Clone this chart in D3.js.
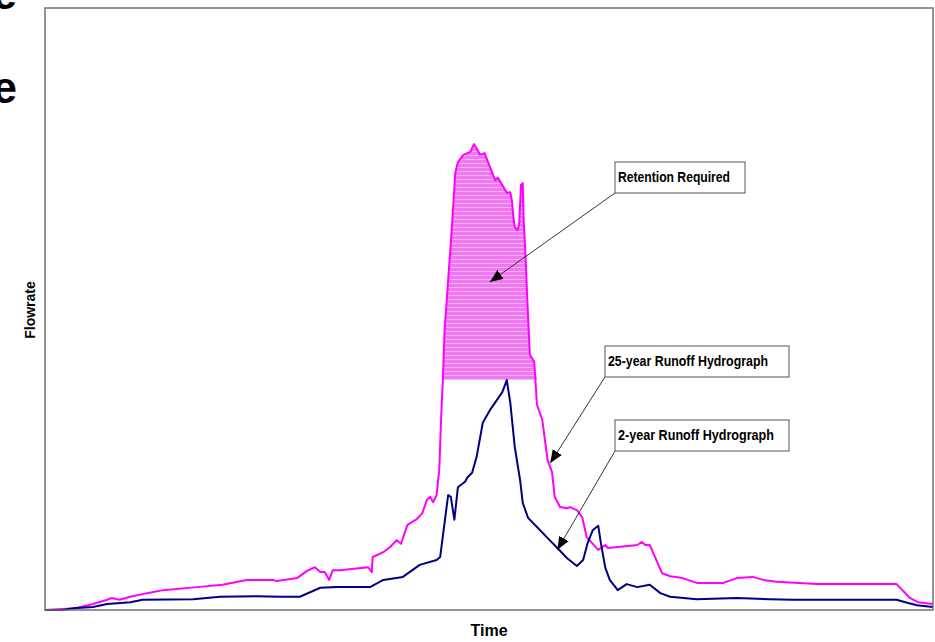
<!DOCTYPE html>
<html>
<head>
<meta charset="utf-8">
<script src="https://cdn.jsdelivr.net/npm/d3@7"></script>
<style>
  body { margin: 0; background: #fff; }
  text { font-family: "Liberation Sans", Arial, sans-serif; }
</style>
</head>
<body>
<div id="chart-area"></div>
<script>
const MARGIN = { LEFT: 45, RIGHT: 2, TOP: 8, BOTTOM: 32 }
const WIDTH = 935 - MARGIN.LEFT - MARGIN.RIGHT
const HEIGHT = 642 - MARGIN.TOP - MARGIN.BOTTOM

// 25-year runoff hydrograph (time %, flowrate %)
const time25 = [0, 3.4, 5.4, 7.0, 7.5, 8.4, 9.6, 11.5, 13.3, 17.1, 20.0, 22.7, 25.7, 26.1, 28.4, 29.5, 30.4, 31.0, 31.5, 32.0,
  32.4, 33.2, 36.4, 36.8, 36.9, 38.1, 38.9, 39.6, 40.1, 40.8, 41.3, 41.8, 42.5, 43.0, 43.4, 43.7, 44.1, 44.4, 44.6, 44.8,
  45.0, 45.4, 45.8, 46.2, 46.5, 47.1, 47.9, 48.3, 48.6, 49.0, 49.5, 50.1, 50.7, 51.0, 51.5, 52.0, 52.4, 52.6, 52.7, 52.9,
  53.2, 53.4, 53.6, 53.8, 53.9, 54.1, 54.3, 54.6, 55.1, 55.4, 56.0, 56.3, 56.6, 57.1, 57.4, 58.0, 58.8, 59.1, 59.9, 60.5,
  61.0, 62.3, 63.1, 63.4, 64.8, 66.7, 67.2, 67.6, 68.1, 69.5, 70.4, 71.8, 73.4, 76.4, 77.9, 79.7, 80.9, 82.4, 86.9, 95.9,
  97.4, 98.3, 100]
const flow25 = [0, 0.3, 1.0, 1.7, 2.0, 1.7, 2.2, 2.8, 3.3, 3.8, 4.2, 5.0, 5.0, 4.8, 5.3, 6.5, 7.1, 6.3, 6.3, 5.0,
  6.6, 6.6, 7.1, 6.3, 8.8, 9.6, 10.5, 11.6, 11.0, 14.1, 14.6, 15.0, 16.1, 18.3, 18.8, 17.9, 19.1, 23.3, 31.6, 38.2,
  46.5, 54.8, 63.1, 72.6, 74.4, 75.6, 76.1, 77.4, 76.7, 75.6, 75.9, 73.6, 71.4, 71.8, 70.6, 69.3, 69.4, 67.8, 65.9, 63.6,
  63.1, 64.0, 70.6, 70.9, 64.8, 59.3, 52.0, 42.4, 41.2, 34.1, 31.6, 28.2, 24.9, 22.9, 18.8, 17.1, 16.9, 17.1, 16.6, 15.4,
  12.1, 10.0, 10.8, 10.3, 10.5, 10.8, 11.3, 10.8, 10.8, 6.1, 5.6, 5.3, 4.5, 4.5, 5.3, 5.5, 5.0, 4.7, 4.3, 4.3,
  2.0, 1.3, 1.0]

// 2-year runoff hydrograph
const time2 = [0, 2.0, 3.2, 5.4, 7.0, 9.6, 11.0, 16.7, 19.7, 23.9, 26.5, 28.7, 31.0, 32.9, 36.6, 38.1, 40.3, 42.2, 44.1, 44.5,
  45.4, 45.7, 46.1, 46.5, 47.3, 47.6, 48.1, 48.6, 49.3, 50.1, 50.9, 51.5, 52.0, 52.4, 52.9, 53.5, 53.8, 54.4, 55.4, 56.5,
  57.7, 58.8, 59.9, 60.6, 61.1, 61.7, 62.3, 62.6, 63.1, 63.6, 64.5, 65.5, 66.7, 68.1, 69.3, 70.4, 73.4, 77.9, 81.6, 84.2,
  95.9, 97.1, 98.2, 100]
const flow2 = [0, 0, 0.3, 0.5, 1.0, 1.3, 1.7, 1.8, 2.2, 2.3, 2.2, 2.2, 3.7, 3.8, 3.8, 5.0, 5.5, 7.5, 8.3, 8.8,
  19.1, 18.8, 15.0, 20.4, 21.3, 22.1, 22.8, 25.4, 31.1, 33.2, 34.9, 36.2, 38.2, 34.4, 27.1, 21.6, 17.8, 15.3, 13.8, 12.1,
  10.3, 8.6, 7.3, 8.3, 11.1, 13.3, 14.0, 11.1, 7.0, 5.0, 3.3, 4.3, 3.8, 4.2, 2.8, 2.2, 1.8, 2.0, 1.8, 1.7,
  1.7, 1.2, 0.8, 0.5]

// callouts: label, arrow tip (time, flow)
const calloutLabels = ["Retention Required", "25-year Runoff Hydrograph", "2-year Runoff Hydrograph"]
const calloutTips = [[50.1, 54.5], [56.9, 24.4], [57.7, 10.0]]

const svg = d3.select("#chart-area").append("svg")
  .attr("width", 935)
  .attr("height", 642)

const defs = svg.append("defs")
defs.append("marker")
  .attr("id", "arrow")
  .attr("viewBox", "0 0 12 10")
  .attr("refX", 12).attr("refY", 5)
  .attr("markerWidth", 13).attr("markerHeight", 11)
  .attr("markerUnits", "userSpaceOnUse")
  .attr("orient", "auto")
  .append("path").attr("d", "M0,0 L12,5 L0,10 Z").attr("fill", "#000")

const pat = defs.append("pattern")
  .attr("id", "hatch")
  .attr("width", 4).attr("height", 4)
  .attr("patternUnits", "userSpaceOnUse")
pat.append("rect").attr("width", 4).attr("height", 4).attr("fill", "#f276f2")
pat.append("rect").attr("y", 3).attr("width", 4).attr("height", 1).attr("fill", "#f8b4f8")

const g = svg.append("g")
  .attr("transform", `translate(${MARGIN.LEFT}, ${MARGIN.TOP})`)

const x = d3.scaleLinear().domain([0, 100]).range([0, WIDTH])
const y = d3.scaleLinear().domain([0, 100]).range([HEIGHT, 0])

const data25 = time25.map((t, i) => ({ t: t, f: flow25[i] }))
const data2 = time2.map((t, i) => ({ t: t, f: flow2[i] }))
const peak2 = d3.max(flow2)

// retention area: 25-year above the 2-year peak
g.append("path")
  .datum(data25)
  .attr("fill", "url(#hatch)")
  .attr("d", d3.area()
    .x(d => x(d.t))
    .y0(y(peak2))
    .y1(d => y(Math.max(d.f, peak2))))

const line = d3.line().x(d => x(d.t)).y(d => y(d.f))

g.append("path").datum(data25)
  .attr("fill", "none").attr("stroke", "#ff00ff").attr("stroke-width", 2)
  .attr("stroke-linejoin", "round")
  .attr("d", line)

g.append("path").datum(data2)
  .attr("fill", "none").attr("stroke", "#000080").attr("stroke-width", 2)
  .attr("stroke-linejoin", "round")
  .attr("d", line)

// frame
g.append("rect")
  .attr("width", WIDTH).attr("height", HEIGHT)
  .attr("fill", "none").attr("stroke", "#707070").attr("stroke-width", 1.5)

// callout boxes (page coords)
const boxes = [
  { x: 615, y: 162, w: 130, h: 31, tw: 112 },
  { x: 605, y: 346, w: 184, h: 31, tw: 160 },
  { x: 615, y: 420, w: 174, h: 31, tw: 156 }
]

calloutLabels.forEach((label, i) => {
  const b = boxes[i]
  const tip = calloutTips[i]
  svg.append("line")
    .attr("x1", b.x).attr("y1", b.y + b.h)
    .attr("x2", x(tip[0]) + MARGIN.LEFT).attr("y2", y(tip[1]) + MARGIN.TOP)
    .attr("stroke", "#333").attr("stroke-width", 1)
    .attr("marker-end", "url(#arrow)")
  svg.append("rect")
    .attr("x", b.x).attr("y", b.y).attr("width", b.w).attr("height", b.h)
    .attr("fill", "#fff").attr("stroke", "#555").attr("stroke-width", 1)
  svg.append("text")
    .attr("x", b.x + 3).attr("y", b.y + 20)
    .attr("textLength", b.tw)
    .attr("lengthAdjust", "spacingAndGlyphs")
    .style("font-size", "14px").style("font-weight", "bold")
    .text(label)
})

// axis labels
svg.append("text")
  .attr("x", MARGIN.LEFT + WIDTH / 2)
  .attr("y", 636)
  .attr("text-anchor", "middle")
  .style("font-size", "16px").style("font-weight", "bold")
  .text("Time")

svg.append("text")
  .attr("transform", "translate(35, 310) rotate(-90)")
  .attr("text-anchor", "middle")
  .style("font-size", "14px").style("font-weight", "bold")
  .text("Flowrate")

// clipped slide text at the left edge
svg.append("text")
  .attr("x", 17).attr("y", 9)
  .attr("text-anchor", "end")
  .style("font-size", "44px").style("font-weight", "bold")
  .text("e")
svg.append("text")
  .attr("x", 17).attr("y", 103)
  .attr("text-anchor", "end")
  .style("font-size", "44px").style("font-weight", "bold")
  .text("e")
</script>
</body>
</html>
